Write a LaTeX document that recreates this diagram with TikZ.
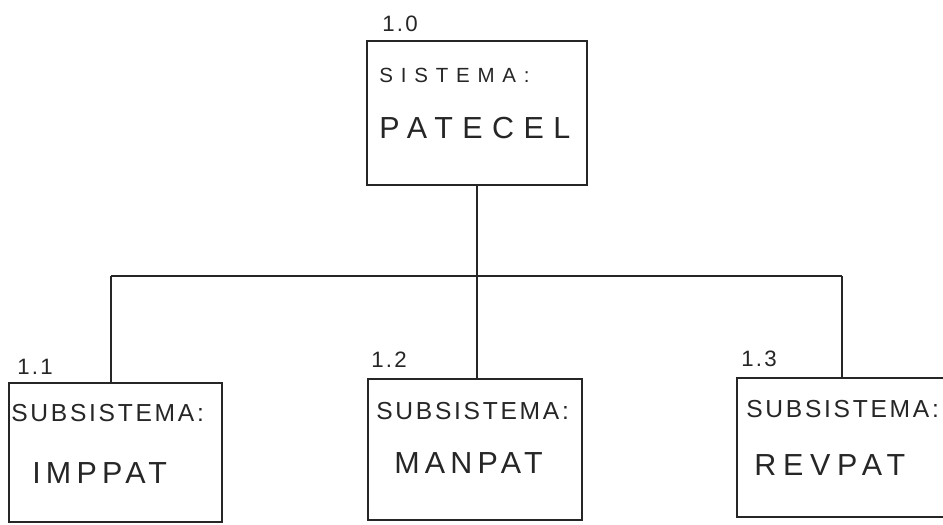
\documentclass[tikz,border=0pt]{standalone}
\usepackage{fontspec}
\newfontfamily\handfont{Liberation Sans}
\usetikzlibrary{positioning,calc}

\begin{document}
\begin{tikzpicture}[
  x=0.03cm, y=-0.03cm,
  bx/.style={rectangle, draw=black!85, line width=1.5pt, inner sep=0pt},
  link/.style={draw=black!85, line width=1.4pt},
  txt/.style={anchor=west, inner sep=0pt, text=black!85},
  num/.style={txt, font=\handfont\fontsize{19}{19}\selectfont\addfontfeature{LetterSpace=10}},
  sysname/.style={txt, font=\handfont\fontsize{17.5}{18}\selectfont\addfontfeature{LetterSpace=38}},
  subname/.style={txt, font=\handfont\fontsize{21}{21}\selectfont\addfontfeature{LetterSpace=11}},
  big/.style={txt, font=\handfont\fontsize{26}{26}\selectfont\addfontfeature{LetterSpace=#1}},
]
% ---- Page ----
\fill[white] (0,0) rectangle (943,524);
\clip (0,0) rectangle (943,524);

% ---- System box ----
\node[bx, minimum width=6.6cm, minimum height=4.32cm] (patecel) at (477,113) {};
\node[num]     (n10)  at ($(patecel.north west)+(16,-16)$) {1.0};
\node[sysname] (sys)  at ($(patecel.north west)+(13,35)$)  {SISTEMA:};
\node[big=31]  (pat)  at ($(patecel.north west)+(13,88)$)  {PATECEL};

% ---- Subsystem boxes ----
\node[bx, minimum width=6.39cm, minimum height=4.17cm] (imppat) at (115.5,452.5) {};
\node[bx, minimum width=6.42cm, minimum height=4.23cm] (manpat) at (475,449.5) {};
\node[bx, minimum width=6.75cm, minimum height=4.17cm] (revpat) at (849.5,447.5) {};

\node[num]     (n11) at ($(imppat.north west)+(9,-15)$) {1.1};
\node[subname] (s11) at ($(imppat.north west)+(3,31)$)  {SUBSISTEMA:};
\node[big=17]  (t11) at ($(imppat.north west)+(24,91)$) {IMPPAT};

\node[num]     (n12) at ($(manpat.north west)+(4,-18)$) {1.2};
\node[subname] (s12) at ($(manpat.north west)+(9,33)$)  {SUBSISTEMA:};
\node[big=17]  (t12) at ($(manpat.north west)+(27,85)$) {MANPAT};

\node[num]     (n13) at ($(revpat.north west)+(5,-18)$) {1.3};
\node[subname] (s13) at ($(revpat.north west)+(10,32)$) {SUBSISTEMA:};
\node[big=22]  (t13) at ($(revpat.north west)+(18,88)$) {REVPAT};

% ---- Tree connectors ----
\coordinate (busL) at (111,276);
\coordinate (busR) at (842,276);
\draw[link] (patecel.south) -- (patecel.south |- busL);
\draw[link] (busL) -- (busR);
\draw[link] (busL) -- (busL |- imppat.north);
\draw[link] (patecel.south |- busL) -- (patecel.south |- manpat.north);
\draw[link] (busR) -- (busR |- revpat.north);
\end{tikzpicture}
\end{document}
